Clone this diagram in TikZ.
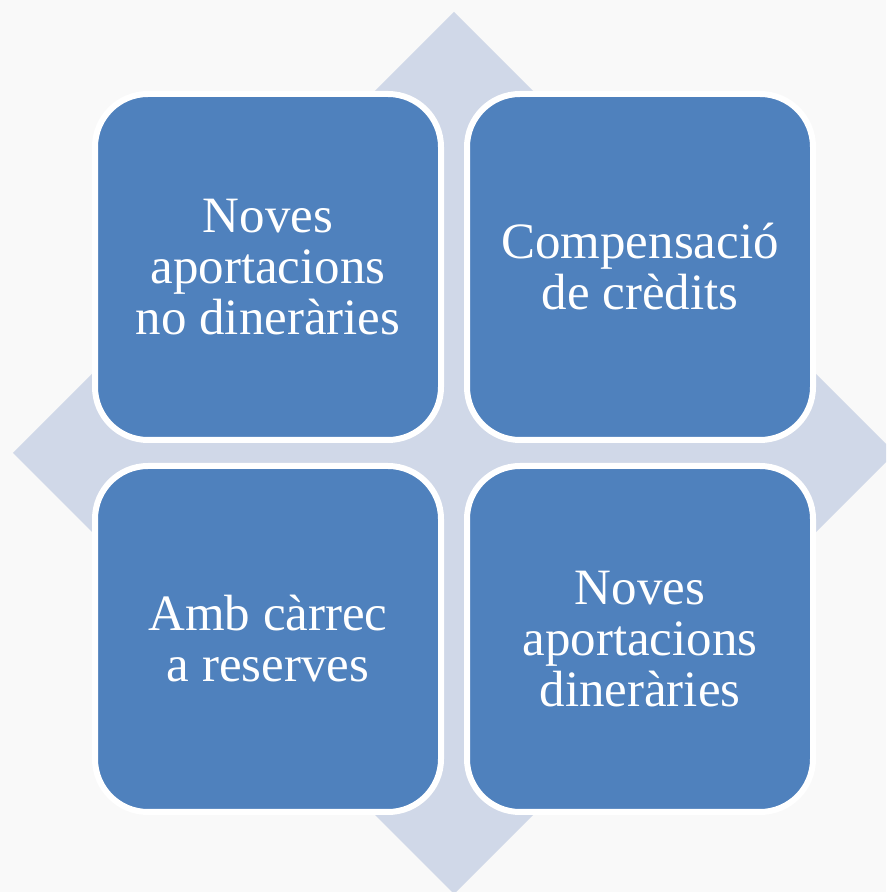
\documentclass[tikz,border=0pt]{standalone}
\usepackage{fontspec}
\setmainfont{Liberation Serif}
\usepackage{tikz}
\usetikzlibrary{positioning}
\definecolor{boxblue}{RGB}{79,129,189}
\definecolor{crossgray}{RGB}{208,216,232}
\definecolor{paper}{RGB}{249,249,249}
\tikzset{
  quad/.style={draw=white, line width=0.12cm, fill=boxblue,
    rounded corners=1.06cm, minimum width=6.92cm, minimum height=6.92cm,
    align=center, text=white, font=\fontsize{29}{29}\selectfont},
}

\begin{document}
\begin{tikzpicture}
   \clip (0,0) rectangle (17.72,17.84);
   \fill[paper] (0,0) rectangle (17.72,17.84);
   \coordinate (O) at (9.08,8.78);

   % background diamond
   \fill[crossgray] (O) ++(0,8.82) -- ++(8.82,-8.82) -- ++(-8.82,-8.82)
      -- ++(-8.82,8.82) -- cycle;

   \node[quad, above left=0.2cm and 0.2cm of O] (nd) {Noves\\aportacions\\no dineràries};
   \node[quad, above right=0.2cm and 0.2cm of O] (cc) {Compensació\\de crèdits};
   \node[quad, below left=0.2cm and 0.2cm of O] (rs) {Amb càrrec\\a reserves};
   \node[quad, below right=0.2cm and 0.2cm of O] (dn) {Noves\\aportacions\\dineràries};
\end{tikzpicture}
\end{document}
